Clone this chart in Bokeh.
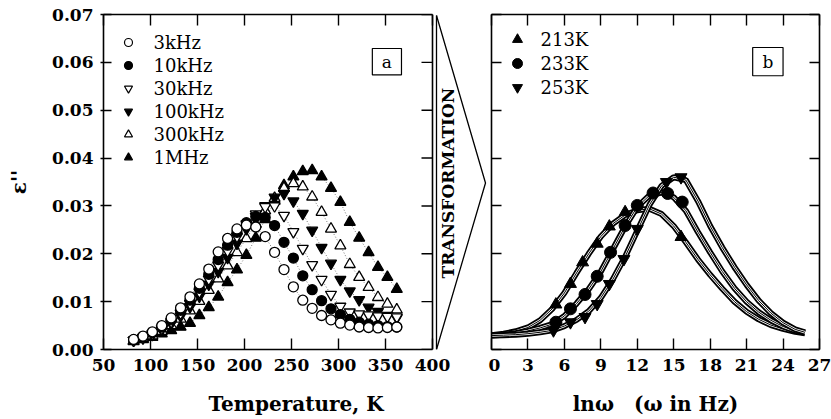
import math
from bokeh.plotting import figure
from bokeh.models import (Range1d, LinearAxis, FixedTicker, NumeralTickFormatter,
                          Label, BoxAnnotation, Span)
from bokeh.layouts import row
from bokeh.embed import file_html
from bokeh.resources import INLINE

FONT = "DejaVu Serif"

# ---------------- panel a data ----------------
temperature = [82, 92, 102, 112, 122, 132, 142, 152, 162, 172, 182, 192, 202, 212, 222,
               232, 242, 252, 262, 272, 282, 292, 302, 312, 322, 332, 342, 352, 362]
eps_3khz = [0.0021, 0.0028, 0.0037, 0.0050, 0.0066, 0.0087, 0.0110, 0.0137, 0.0168, 0.0204,
            0.0232, 0.0252, 0.0260, 0.0256, 0.0236, 0.0203, 0.0167, 0.0131, 0.0103, 0.0086,
            0.0071, 0.0062, 0.0055, 0.0051, 0.0047, 0.0046, 0.0045, 0.0046, 0.0047]
eps_10khz = [0.0020, 0.0027, 0.0035, 0.0047, 0.0062, 0.0082, 0.0103, 0.0128, 0.0157, 0.0188,
             0.0218, 0.0245, 0.0265, 0.0278, 0.0276, 0.0259, 0.0224, 0.0191, 0.0154, 0.0125,
             0.0102, 0.0085, 0.0073, 0.0063, 0.0057, 0.0053, 0.0050, 0.0048, 0.0047]
eps_30khz = [0.0019, 0.0025, 0.0033, 0.0044, 0.0058, 0.0076, 0.0096, 0.0120, 0.0147, 0.0176,
             0.0206, 0.0236, 0.0262, 0.0283, 0.0298, 0.0300, 0.0280, 0.0246, 0.0211, 0.0177,
             0.0146, 0.0115, 0.0090, 0.0078, 0.0074, 0.0072, 0.0070, 0.0069, 0.0068]
eps_100khz = [0.0019, 0.0024, 0.0031, 0.0041, 0.0054, 0.0070, 0.0089, 0.0111, 0.0136, 0.0163,
              0.0192, 0.0222, 0.0252, 0.0278, 0.0300, 0.0318, 0.0326, 0.0310, 0.0284, 0.0249,
              0.0213, 0.0180, 0.0146, 0.0122, 0.0104, 0.0088, 0.0079, 0.0071, 0.0066]
eps_300khz = [0.0018, 0.0023, 0.0029, 0.0038, 0.0050, 0.0064, 0.0081, 0.0101, 0.0124, 0.0148,
              0.0175, 0.0203, 0.0232, 0.0262, 0.0290, 0.0316, 0.0337, 0.0347, 0.0340, 0.0319,
              0.0287, 0.0252, 0.0217, 0.0178, 0.0151, 0.0130, 0.0109, 0.0095, 0.0083]
eps_1mhz = [0.0017, 0.0021, 0.0026, 0.0033, 0.0040, 0.0047, 0.0055, 0.0071, 0.0088, 0.0110,
            0.0140, 0.0167, 0.0197, 0.0233, 0.0272, 0.0310, 0.0343, 0.0361, 0.0372, 0.0374,
            0.0361, 0.0337, 0.0308, 0.0266, 0.0233, 0.0203, 0.0172, 0.0151, 0.0126]
freq_labels = ["3kHz", "10kHz", "30kHz", "100kHz", "300kHz", "1MHz"]
temp_ticks = [50, 100, 150, 200, 250, 300, 350, 400]
eps_ticks = [0.0, 0.01, 0.02, 0.03, 0.04, 0.05, 0.06, 0.07]

# ---------------- panel b data ----------------
lnw_curve = [0, 1, 2, 3, 4, 5, 6, 7, 8, 9, 10, 11, 12, 13, 14, 15, 16, 17, 18, 19, 20,
             21, 22, 23, 24, 25, 25.8]
curve_213k = [0.0030, 0.0033, 0.0038, 0.0046, 0.0061, 0.0085, 0.0118, 0.0160, 0.0200, 0.0236,
              0.0263, 0.0281, 0.0291, 0.0294, 0.0283, 0.0258, 0.0224, 0.0188, 0.0156, 0.0127,
              0.0100, 0.0079, 0.0063, 0.0051, 0.0043, 0.0037, 0.0034]
curve_233k = [0.0029, 0.0031, 0.0034, 0.0039, 0.0045, 0.0053, 0.0070, 0.0096, 0.0126, 0.0163,
              0.0210, 0.0257, 0.0298, 0.0322, 0.0328, 0.0318, 0.0290, 0.0245, 0.0203, 0.0163,
              0.0128, 0.0100, 0.0078, 0.0061, 0.0048, 0.0039, 0.0035]
curve_253k = [0.0029, 0.0030, 0.0031, 0.0033, 0.0036, 0.0040, 0.0049, 0.0062, 0.0080, 0.0108,
              0.0147, 0.0194, 0.0248, 0.0302, 0.0342, 0.0360, 0.0354, 0.0310, 0.0258, 0.0213,
              0.0172, 0.0135, 0.0102, 0.0076, 0.0056, 0.0042, 0.0036]
lnw_213k = [5.3, 6.5, 7.5, 8.7, 9.7, 11.0, 15.6]
pts_213k = [0.0094, 0.0137, 0.0182, 0.0221, 0.0257, 0.0287, 0.0235]
lnw_233k = [5.3, 6.5, 7.7, 8.7, 9.8, 11.0, 12.0, 13.3, 14.5, 15.7]
pts_233k = [0.0057, 0.0085, 0.0115, 0.0153, 0.0203, 0.0259, 0.0301, 0.0327, 0.0326, 0.0308]
lnw_253k = [5.1, 6.5, 7.7, 8.7, 9.7, 10.9, 12.0, 14.4, 15.6]
pts_253k = [0.0040, 0.0057, 0.0068, 0.0095, 0.0137, 0.0189, 0.0252, 0.0350, 0.0360]
temp_labels = ["213K", "233K", "253K"]
lnw_ticks = [0, 3, 6, 9, 12, 15, 18, 21, 24, 27]

# ---------------- layout (pixels) ----------------
H = 419
TOP, BOTTOM = 14, 70
A_LEFT, A_RIGHT, A_FIG_W = 103, 432, 488       # panel a frame; arrow lives in 432..488
B_LEFT, B_RIGHT, B_FIG_W = 491, 819, 343
FRAME_TOP_PX, FRAME_BOT_PX = TOP, H - BOTTOM
TICK_IN = 11
AXW = 1.6


def style_axis(ax, labels=True):
    ax.axis_line_width = AXW
    ax.major_tick_line_width = 1.4
    ax.minor_tick_line_color = None
    ax.major_label_text_font = FONT
    ax.major_label_text_font_style = "bold"
    ax.major_label_text_font_size = "17px" if labels else "0px"
    ax.major_label_text_color = "black"
    ax.axis_label_text_font = FONT
    ax.axis_label_text_font_style = "bold"
    ax.axis_label_text_font_size = "20px"
    ax.axis_label_text_color = "black"
    if not labels:
        ax.major_label_standoff = 0


def base_fig(width, xr, mbl, mbr, px_left, px_right):
    p = figure(width=width, height=H, x_range=Range1d(*xr), y_range=Range1d(0, 0.07),
               output_backend="svg", toolbar_location=None,
               x_axis_location=None, y_axis_location=None,
               min_border_left=mbl, min_border_right=mbr,
               min_border_top=TOP, min_border_bottom=BOTTOM)
    p.grid.visible = False
    p.outline_line_color = None
    p.background_fill_color = "white"
    p.border_fill_color = "white"
    # a pixel-valued helper range for decorations (legend, arrow)
    p.extra_x_ranges = {"px": Range1d(px_left, px_right)}
    p.extra_y_ranges = {"px": Range1d(FRAME_BOT_PX, FRAME_TOP_PX)}
    return p


# ================= panel a (+ transformation arrow) =================
a_xmax = 50 + (A_FIG_W - A_LEFT) * 350.0 / (A_RIGHT - A_LEFT)
pa = base_fig(A_FIG_W, (50, a_xmax), A_LEFT, 0, A_LEFT, A_FIG_W)

xa = LinearAxis(ticker=FixedTicker(ticks=temp_ticks), bounds=(50, 400),
                axis_label="Temperature, K", major_tick_in=TICK_IN, major_tick_out=0,
                major_label_standoff=9, axis_label_standoff=18)
style_axis(xa)
pa.add_layout(xa, "below")
xa_top = LinearAxis(ticker=FixedTicker(ticks=temp_ticks), bounds=(50, 400),
                    major_tick_in=TICK_IN, major_tick_out=0)
style_axis(xa_top, labels=False)
pa.add_layout(xa_top, "above")
ya = LinearAxis(ticker=FixedTicker(ticks=eps_ticks), axis_label="ε''",
                formatter=NumeralTickFormatter(format="0.00"),
                major_tick_in=8, major_tick_out=3, major_label_standoff=7,
                axis_label_standoff=18)
style_axis(ya)
pa.add_layout(ya, "left")

# right spine of panel a with inward ticks
pa.add_layout(Span(location=400, dimension="height", line_color="black", line_width=AXW))
tick_len = TICK_IN * 350.0 / (A_RIGHT - A_LEFT)
pa.segment(x0=[400 - tick_len] * len(eps_ticks), x1=[400] * len(eps_ticks),
           y0=eps_ticks, y1=eps_ticks, line_color="black", line_width=1.4)

series_a = [eps_3khz, eps_10khz, eps_30khz, eps_100khz, eps_300khz, eps_1mhz]
markers_a = ["circle", "circle", "inverted_triangle", "inverted_triangle", "triangle", "triangle"]
fills_a = ["white", "black", "white", "black", "white", "black"]
sizes_a = [10, 10, 11, 11, 11, 11]

for ys in series_a:
    pa.line(temperature, ys, line_color="#555555", line_width=0.8, line_dash="1 2")
for k in reversed(range(6)):
    pa.scatter(temperature, series_a[k], marker=markers_a[k], size=sizes_a[k],
               fill_color=fills_a[k], line_color="black", line_width=1.3)

# legend (drawn in pixel helper range)
leg_x, leg_y0, leg_dy = A_LEFT + 25, FRAME_TOP_PX + 28, 23
for k in range(6):
    pa.scatter([leg_x], [leg_y0 + k * leg_dy], marker=markers_a[k], size=8,
               fill_color=fills_a[k], line_color="black", line_width=1.2,
               x_range_name="px", y_range_name="px")
pa.text(x=[leg_x + 25] * 6, y=[leg_y0 + k * leg_dy for k in range(6)], text=freq_labels,
        text_baseline="middle", text_align="left", text_font_size="18px",
        text_font={"value": FONT}, text_color="black", x_range_name="px", y_range_name="px")

pa.add_layout(BoxAnnotation(left=336, right=367, top=0.0629, bottom=0.0574,
                            fill_color="white", fill_alpha=1, line_color="black",
                            line_alpha=1, line_width=1.2))
pa.add_layout(Label(x=351.5, y=0.0601, text="a", text_align="center", text_baseline="middle",
                    text_font=FONT, text_font_size="17px", text_color="black"))

# transformation arrow
ax0, ax_tip = A_RIGHT + 4, A_RIGHT + 53
ymid = (FRAME_TOP_PX + FRAME_BOT_PX) / 2 + 1
pa.line([ax0, ax0], [FRAME_TOP_PX + 1, FRAME_BOT_PX], line_color="black", line_width=1.3,
        x_range_name="px", y_range_name="px")
pa.line([ax0, ax_tip, ax0], [FRAME_TOP_PX + 1, ymid, FRAME_BOT_PX], line_color="black",
        line_width=1.3, x_range_name="px", y_range_name="px")
pa.add_layout(Label(x=ax0 + 11, y=ymid, text="TRANSFORMATION", angle=math.pi / 2,
                    text_align="center", text_baseline="middle", text_font=FONT,
                    text_font_style="bold", text_font_size="17px", text_color="black",
                    x_range_name="px", y_range_name="px"))

# ================= panel b =================
pb = base_fig(B_FIG_W, (0, 27), 3, B_FIG_W - 3 - (B_RIGHT - B_LEFT), B_LEFT, B_RIGHT)
xb = LinearAxis(ticker=FixedTicker(ticks=lnw_ticks), axis_label="lnω\u2003(ω in Hz)",
                major_tick_in=TICK_IN, major_tick_out=0, major_label_standoff=9,
                axis_label_standoff=18)
style_axis(xb)
pb.add_layout(xb, "below")
xb_top = LinearAxis(ticker=FixedTicker(ticks=lnw_ticks), major_tick_in=TICK_IN, major_tick_out=0)
style_axis(xb_top, labels=False)
pb.add_layout(xb_top, "above")
yb = LinearAxis(ticker=FixedTicker(ticks=eps_ticks), major_tick_in=10, major_tick_out=0)
style_axis(yb, labels=False)
pb.add_layout(yb, "left")
yb_r = LinearAxis(ticker=FixedTicker(ticks=eps_ticks), major_tick_in=10, major_tick_out=0)
style_axis(yb_r, labels=False)
pb.add_layout(yb_r, "right")

for cy in (curve_213k, curve_233k, curve_253k):
    pb.line(lnw_curve, cy, line_color="black", line_width=6)
    pb.line(lnw_curve, cy, line_color="white", line_width=2.4)
    pb.line(lnw_curve, cy, line_color="black", line_width=1.0)

markers_b = ["triangle", "circle", "inverted_triangle"]
pb.scatter(lnw_213k, pts_213k, marker="triangle", size=12, fill_color="black", line_color="black")
pb.scatter(lnw_233k, pts_233k, marker="circle", size=12, fill_color="black", line_color="black")
pb.scatter(lnw_253k, pts_253k, marker="inverted_triangle", size=12, fill_color="black",
           line_color="black")

lb_x, lb_y0, lb_dy = B_LEFT + 26, FRAME_TOP_PX + 25, 24
for k in range(3):
    pb.scatter([lb_x], [lb_y0 + k * lb_dy], marker=markers_b[k], size=10,
               fill_color="black", line_color="black", x_range_name="px", y_range_name="px")
pb.text(x=[lb_x + 23] * 3, y=[lb_y0 + k * lb_dy for k in range(3)], text=temp_labels,
        text_baseline="middle", text_align="left", text_font_size="18px",
        text_font={"value": FONT}, text_color="black", x_range_name="px", y_range_name="px")

pb.add_layout(BoxAnnotation(left=21.5, right=24.0, top=0.0631, bottom=0.0572,
                            fill_color="white", fill_alpha=1, line_color="black",
                            line_alpha=1, line_width=1.2))
pb.add_layout(Label(x=22.75, y=0.0601, text="b", text_align="center", text_baseline="middle",
                    text_font=FONT, text_font_size="17px", text_color="black"))

layout = row(pa, pb, spacing=0)
open("out.html", "w").write(file_html(layout, INLINE))
